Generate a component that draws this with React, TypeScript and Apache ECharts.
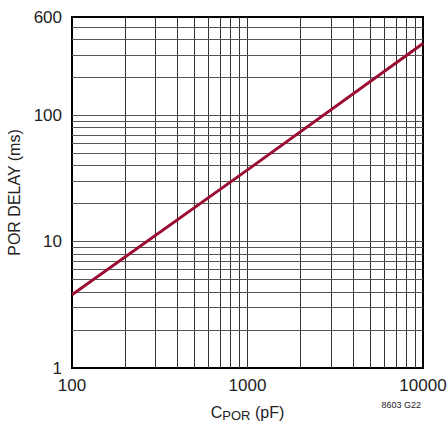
import React, { useEffect, useRef } from "react";
import * as echarts from "echarts";

const capacitancePF = [100, 1000, 10000];
const porDelayMs = [3.8, 37, 370];
const xGridValues = [200, 300, 400, 500, 600, 700, 800, 900, 1000, 2000, 3000, 4000, 5000, 6000, 7000, 8000, 9000];
const yGridValues = [2, 3, 4, 5, 6, 7, 8, 9, 10, 20, 30, 40, 50, 60, 70, 80, 90, 100, 200, 300, 400, 500];
const xRange = [100, 10000];
const yRange = [1, 600];

export default function App() {
  const ref = useRef<HTMLDivElement>(null);
  useEffect(() => {
    if (!ref.current) return;
    const chart = echarts.init(ref.current, null, { renderer: "svg" });
    const font = "'Liberation Sans', Arial, Helvetica, sans-serif";
    chart.setOption({
      animation: false,
      textStyle: { fontFamily: font },
      grid: {
        left: 72, right: 25, top: 17, bottom: 70,
        outerBoundsMode: "none", containLabel: false,
        show: true, borderColor: "#000", borderWidth: 2,
      },
      xAxis: {
        type: "log",
        logBase: 10,
        min: xRange[0],
        max: xRange[1],
        name: "{a|C}{b|POR}{a| (pF)}",
        nameLocation: "middle",
        nameGap: 35,
        nameTextStyle: {
          rich: {
            a: { fontSize: 16, color: "#222", fontFamily: font },
            b: { fontSize: 13, color: "#222", fontFamily: font, padding: [6, 0, 0, 0] },
          },
        },
        axisLine: { show: true, lineStyle: { color: "#000", width: 2 } },
        axisTick: { show: false },
        splitLine: { show: false },
        axisLabel: { fontSize: 17, color: "#222", margin: 9, fontFamily: font, formatter: (v: number) => String(v) },
      },
      yAxis: {
        type: "log",
        logBase: 10,
        min: yRange[0],
        max: yRange[1],
        name: "POR DELAY (ms)",
        nameLocation: "middle",
        nameGap: 45,
        nameTextStyle: { fontSize: 16, color: "#222", fontFamily: font },
        axisLine: { show: true, lineStyle: { color: "#000", width: 2 } },
        axisTick: { show: false },
        splitLine: { show: false },
        axisLabel: { fontSize: 17, color: "#222", margin: 10, fontFamily: font, formatter: (v: number) => String(v) },
      },
      graphic: [
        {
          type: "text",
          right: 27,
          top: 400,
          style: { text: "8603 G22", fontSize: 9, fill: "#222", fontFamily: font },
        },
      ],
      series: [
        {
          type: "line",
          silent: true,
          data: [],
          markLine: {
            silent: true,
            symbol: "none",
            label: { show: false },
            animation: false,
            data: [
              ...xGridValues.map((v) => ({ xAxis: v, lineStyle: { color: "#333", width: 1, type: "solid" } })),
              ...yGridValues.map((v) => ({ yAxis: v, lineStyle: { color: "#555", width: 1, type: "solid" } })),
            ],
          },
        },
        {
          type: "line",
          data: capacitancePF.map((c, i) => [c, porDelayMs[i]]),
          symbol: "none",
          lineStyle: { color: "#9b0d32", width: 3 },
          z: 5,
        },
      ],
    });
    return () => chart.dispose();
  }, []);
  return <div ref={ref} style={{ position: "absolute", left: 0, top: 0, width: 448, height: 438 }} />;
}
